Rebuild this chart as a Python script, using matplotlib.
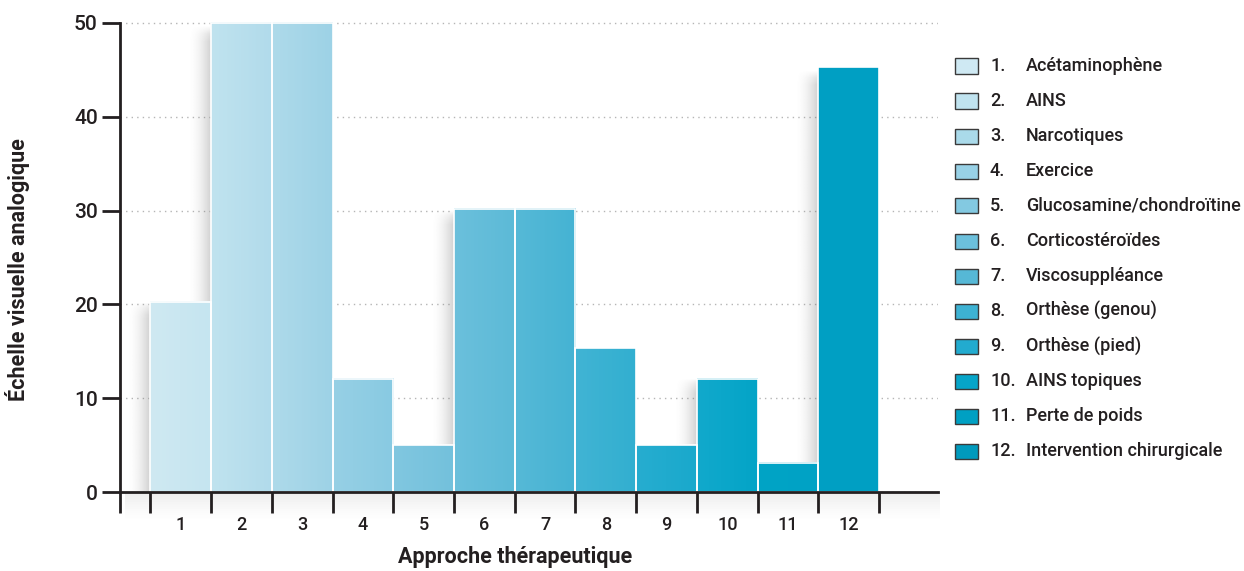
import numpy as np
import matplotlib
matplotlib.use("Agg")
import matplotlib.pyplot as plt
from matplotlib.patches import Rectangle
from matplotlib.colors import to_rgb

plt.rcParams['font.family'] = ['Roboto', 'DejaVu Sans']

# scores per therapeutic approach (visual analogue scale)
approaches = [1, 2, 3, 4, 5, 6, 7, 8, 9, 10, 11, 12]
scores = [20.3, 50, 50, 12.1, 5.0, 30.2, 30.2, 15.3, 5.0, 12.1, 3.1, 45.3]
names = ["Acétaminophène", "AINS", "Narcotiques", "Exercice",
         "Glucosamine/chondroïtine", "Corticostéroïdes", "Viscosuppléance",
         "Orthèse (genou)", "Orthèse (pied)", "AINS topiques",
         "Perte de poids", "Intervention chirurgicale"]
yticks = [0, 10, 20, 30, 40, 50]

# left / right shade of each bar's horizontal gradient
shades = [("#cfe9f2", "#c5e5f0"), ("#c0e3ef", "#b1dbeb"), ("#aedaea", "#9dd2e6"),
          ("#97d0e5", "#88cae2"), ("#81c7e0", "#73c1dc"), ("#6bc0dc", "#5cbad7"),
          ("#56b9d7", "#45b3d3"), ("#41b4d4", "#32afd0"), ("#27add0", "#19a9cc"),
          ("#12a9cc", "#03a4c7"), ("#00a4c6", "#00a2c5"), ("#00a0c4", "#009fc3")]
swatches = ["#cfe9f3", "#c0e3ef", "#aadaea", "#98d1e6", "#83c9e1", "#6cc0dc",
            "#56b8d6", "#3db2d3", "#22abcf", "#06a5c9", "#00a0c3", "#009abd"]
ink = '#231f20'

W, H = 1244, 571
fig = plt.figure(figsize=(W / 100, H / 100), dpi=100)

# soft shadow under the x axis
sh = fig.add_axes([125 / W, (571 - 522) / H, (940 - 125) / W, 30 / H], zorder=0)
img = np.zeros((50, 1, 4))
img[..., :3] = 0.45
img[:, 0, 3] = np.linspace(0.14, 0, 50) ** 1.4 / 0.14 ** 0.4
sh.imshow(img, aspect='auto', extent=[0, 1, 0, 1], interpolation='bilinear')
sh.axis('off')

top = 51
ax = fig.add_axes([120 / W, (571 - 492) / H, (938 - 120) / W, (492 - 23) / H * top / 50], zorder=1)
ax.patch.set_alpha(0)

bars = ax.bar(approaches, scores, width=1, color=[s[0] for s in shades],
              edgecolor='none', zorder=3)

# gradient fill and soft left shadow for each bar
for b, (c0, c1) in zip(bars, shades):
    x0, w, h = b.get_x(), b.get_width(), b.get_height()
    grad = np.linspace(0, 1, 64)
    rgb = np.array([to_rgb(c0)]) * (1 - grad[:, None]) + np.array([to_rgb(c1)]) * grad[:, None]
    ax.imshow(rgb[None, :, :], extent=[x0, x0 + w, 0, h], aspect='auto',
              interpolation='bilinear', zorder=3.2)
    sw = 0.38
    n = 60
    s = np.zeros((n, 40, 4))
    s[..., :3] = 0.4
    horiz = np.linspace(0, 1, 40) ** 1.8 * 0.32
    fade = min(1.0, 1.5 / max(h, 1e-6))
    vert = np.clip(np.linspace(0, 1, n) / fade, 0, 1) ** 0.6
    s[..., 3] = vert[:, None] * horiz[None, :]
    ax.imshow(s, extent=[x0 - sw, x0, 0, h], aspect='auto',
              interpolation='bilinear', zorder=2)

ax.bar(approaches, scores, width=1, fill=False, edgecolor='white', linewidth=1.2, zorder=4)

ax.set_xlim(0, 13.47)
ax.set_ylim(0, top)

ax.spines['top'].set_visible(False)
ax.spines['right'].set_visible(False)
for side in ('left', 'bottom'):
    ax.spines[side].set_linewidth(2)
    ax.spines[side].set_color(ink)
    ax.spines[side].set_zorder(5)
ax.spines['left'].set_bounds(0, 50)

ax.set_yticks(yticks)
ax.tick_params(axis='y', length=13, width=2, color=ink, pad=3,
               labelsize=15, labelcolor=ink)
for t in ax.get_yticklabels():
    t.set_fontweight('medium')

edges = [0] + [a - 0.5 for a in approaches] + [approaches[-1] + 0.5]
ax.set_xticks(edges)
ax.set_xticklabels([])
ax.set_xticks(approaches, minor=True)
ax.set_xticklabels([str(a) for a in approaches], minor=True)
ax.tick_params(axis='x', which='major', length=15, width=2, color=ink)
ax.tick_params(axis='x', which='minor', length=0, pad=17, labelsize=13,
               labelcolor=ink)
for t in ax.get_xticklabels(minor=True):
    t.set_fontweight('medium')

ax.set_axisbelow(True)
ax.yaxis.grid(True, color='#b5b5b5', linestyle=(0, (1, 3)), linewidth=1)
ax.xaxis.grid(False)

fig.text(515 / W, 1 - 557 / H, "Approche thérapeutique", ha='center', va='center',
         fontsize=15.5, fontweight='bold', color=ink)
fig.text(18 / W, 1 - 270 / H, "Échelle visuelle analogique", ha='center', va='center',
         rotation=90, fontsize=15.5, fontweight='bold', color=ink)

# legend drawn as swatches with numbered labels
for i, (a, name, c) in enumerate(zip(approaches, names, swatches)):
    yc = 66 + i * 35
    fig.patches.append(Rectangle((955 / W, 1 - (yc + 7.5) / H), 23 / W, 15 / H,
                                 transform=fig.transFigure, facecolor=c,
                                 edgecolor='#3a3a3a', linewidth=1))
    fig.text(990 / W, 1 - yc / H, f"{a}.", ha='left', va='center',
             fontsize=13, fontweight='medium', color=ink)
    fig.text(1026 / W, 1 - yc / H, name, ha='left', va='center',
             fontsize=13, fontweight='medium', color=ink)

fig.savefig("out.png", dpi=100, facecolor='white')
